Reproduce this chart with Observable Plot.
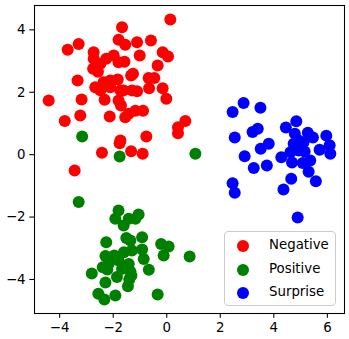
<!DOCTYPE html>
<html>
<head>
<meta charset="utf-8">
<script src="https://cdn.jsdelivr.net/npm/d3@7"></script>
<script src="https://cdn.jsdelivr.net/npm/@observablehq/plot@0.6"></script>
<style>
  html, body { margin: 0; padding: 0; background: white; }
  #wrap { position: relative; width: 349px; height: 339px; }
  #legend {
    position: absolute; left: 224px; top: 231px; width: 112px; height: 75px;
    border: 1px solid #cccccc; border-radius: 4px; background: rgba(255,255,255,0.8);
    font-family: "DejaVu Sans", sans-serif; font-size: 13.33px; color: black; box-sizing: border-box;
  }
  .row { position: absolute; left: 0; height: 16px; }
  .sw { position: absolute; left: 12px; top: 2px; width: 12px; height: 12px; border-radius: 50%; }
  .lab { position: absolute; left: 44px; top: -1px; white-space: nowrap; line-height: 16px; }
</style>
</head>
<body>
<div id="wrap"></div>
<script>
const categories = ["Negative", "Positive", "Surprise"];
const colors = ["red", "green", "blue"];
const xTicks = [-4, -2, 0, 2, 4, 6];
const yTicks = [-4, -2, 0, 2, 4];

const negX = [-4.41,-3.81,-3.70,-3.29,-3.33,-3.18,-3.23,-3.44,-2.73,-2.73,-2.75,-2.57,-2.48,-2.26,-1.98,-1.80,-1.58,-2.67,-2.48,-2.36,-2.11,-2.11,-2.32,-2.13,-1.83,-1.67,-1.80,-1.55,-1.11,-0.59,-1.01,-1.33,-1.26,-1.73,-1.61,-1.80,-1.71,-1.55,-1.42,-1.17,-0.885,-1.30,-1.11,-0.676,-0.463,-0.34,-0.153,0.049,-0.153,-0.015,-1.73,-1.76,-0.762,-2.42,-1.33,-0.90,0.134,0.695,0.42,0.42,-0.66];
const negY = [1.735,1.08,3.36,3.55,2.376,1.767,1.254,-0.508,3.28,3.07,2.75,2.66,2.91,3.07,3.18,2.96,2.98,2.16,2.06,2.32,2.376,2.16,1.76,1.22,2.41,4.08,3.68,3.52,3.60,3.66,3.18,2.54,2.59,2.06,2.06,1.735,1.575,1.20,1.31,1.41,1.41,2.06,2.03,2.46,2.46,2.86,3.28,3.145,2.13,1.79,0.453,0.367,0.58,0.059,0.11,0.027,4.33,1.078,0.88,0.687,2.13];

const posX = [-3.16,-1.76,1.07,-3.29,-1.80,-1.92,-1.61,-1.42,-1.05,-1.17,-2.26,-1.51,-1.36,-0.92,-0.21,0.07,-0.116,0.855,-2.29,-1.96,-1.60,-1.30,-0.92,-0.86,-0.67,-2.80,-2.39,-2.17,-1.80,-2.29,-1.86,-1.42,-1.36,-1.40,-1.45,-2.555,-2.33,-1.92,-0.34,-1.67,-2.22,-1.32];
const posY = [0.58,-0.06,0.027,-1.52,-1.79,-2.055,-2.27,-2.055,-1.92,-2.055,-2.81,-2.67,-2.75,-2.645,-2.86,-2.94,-3.23,-3.26,-3.25,-3.23,-3.13,-3.07,-3.04,-3.34,-3.69,-3.81,-3.61,-3.50,-3.39,-4.10,-3.92,-3.50,-3.74,-4.00,-4.22,-4.46,-4.64,-4.51,-4.48,-3.66,-3.68,-3.87];

const surX = [2.46,2.87,3.50,2.54,3.205,3.40,3.51,3.81,2.91,3.25,3.74,2.46,2.54,4.45,4.84,4.785,4.93,5.27,5.46,5.96,6.085,6.11,5.71,5.15,4.93,4.62,4.28,4.68,5.08,5.36,5.30,4.65,5.57,4.36,4.89,4.74,5.11,4.98];
const surY = [1.37,1.655,1.50,0.55,0.73,0.83,0.19,0.35,-0.05,-0.43,-0.35,-0.915,-1.22,0.87,1.07,0.67,0.45,0.70,0.55,0.61,0.30,0.027,0.16,0.10,0.13,0.08,-0.08,-0.25,-0.27,-0.19,-0.55,-0.77,-0.85,-1.12,-2.01,0.35,0.40,0.29];

const seriesX = [negX, posX, surX];
const seriesY = [negY, posY, surY];
const data = [];
categories.forEach((c, i) => {
  seriesX[i].forEach((x, j) => data.push({category: c, x, y: seriesY[i][j]}));
});

const fmt = d => d < 0 ? "\u2212" + Math.abs(d) : String(d);

const chart = Plot.plot({
  width: 349,
  height: 339,
  marginLeft: 34,
  marginRight: 5,
  marginTop: 5,
  marginBottom: 26,
  style: {fontFamily: "DejaVu Sans, sans-serif", fontSize: "13.33px", background: "white", color: "black"},
  x: {domain: [-4.94, 6.64]},
  y: {domain: [-5.09, 4.78]},
  color: {domain: categories, range: colors},
  marks: [
    Plot.dot(data, {x: "x", y: "y", fill: "category", r: 6, stroke: null}),
    Plot.frame({stroke: "black", strokeWidth: 1.07}),
    Plot.axisX({ticks: xTicks, tickFormat: fmt, tickSize: 4.7, tickPadding: 4.2, label: null, strokeWidth: 1.07, fontSize: 13.33}),
    Plot.axisY({ticks: yTicks, tickFormat: fmt, tickSize: 4.7, tickPadding: 4.2, label: null, strokeWidth: 1.07, fontSize: 13.33})
  ]
});

const wrap = document.getElementById("wrap");
wrap.appendChild(chart);

const legend = document.createElement("div");
legend.id = "legend";
const rowTops = [6, 29.5, 53];
categories.forEach((c, i) => {
  const row = document.createElement("div");
  row.className = "row";
  row.style.top = rowTops[i] + "px";
  const sw = document.createElement("div");
  sw.className = "sw";
  sw.style.background = colors[i];
  const lab = document.createElement("div");
  lab.className = "lab";
  lab.textContent = c;
  row.appendChild(sw);
  row.appendChild(lab);
  legend.appendChild(row);
});
wrap.appendChild(legend);
</script>
</body>
</html>
